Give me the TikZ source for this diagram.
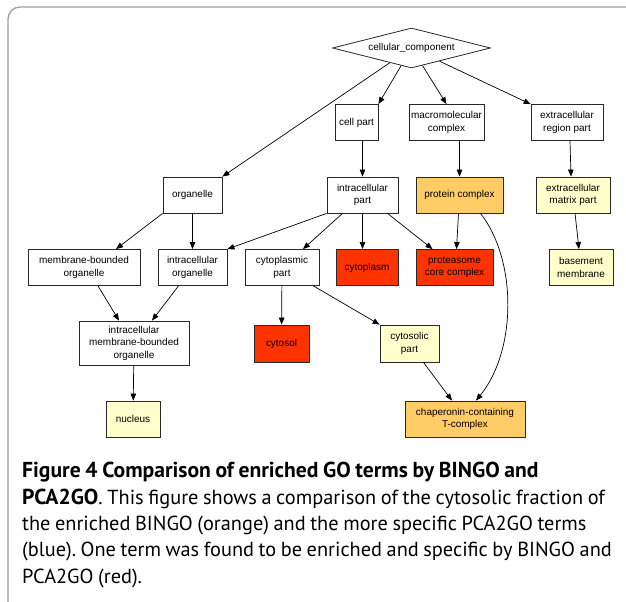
\documentclass[tikz,border=0pt]{standalone}
\usepackage{fontspec}
\usepackage{xcolor}
\usepackage{tikz}
\usetikzlibrary{shapes.geometric, arrows.meta, positioning}
\newfontfamily\gofont{Liberation Sans}
\newfontfamily\capfont{PT Sans}[WordSpace=0.85]
\newcommand\capbf[1]{{\fontsize{21.7}{26.5}\selectfont\bfseries #1}}
\frenchspacing
\definecolor{framegray}{RGB}{160,160,160}
\definecolor{bingofill}{RGB}{255,204,102}
\definecolor{bothfill}{RGB}{255,51,0}
\definecolor{pcafill}{RGB}{255,255,204}
\definecolor{edgegray}{RGB}{40,40,40}
\tikzset{
    goterm/.style={
        rectangle,
        draw=edgegray,
        line width=0.8bp,
        fill=white,
        align=center,
        inner sep=2bp,
        minimum height=36bp,
        font=\gofont\fontsize{10}{12.5}\selectfont
    },
    bingoterm/.style={
        goterm,
        fill=bingofill
    },
    bothterm/.style={
        goterm,
        fill=bothfill
    },
    pcaterm/.style={
        goterm,
        fill=pcafill
    },
    rootterm/.style={
        diamond,
        aspect=4,
        draw=edgegray,
        line width=0.8bp,
        inner sep=0pt,
        minimum width=158bp,
        minimum height=40bp,
        font=\gofont\fontsize{10}{12.5}\selectfont
    },
    connection/.style={
        draw=black,
        line width=0.7bp,
        -{Triangle[length=7bp,width=5.5bp]}
    },
    caption/.style={
        align=left,
        inner sep=0pt,
        anchor=north west,
        font=\capfont\fontsize{20.4}{26.5}\selectfont
    }
}

\begin{document}
\begin{tikzpicture}[x=1bp, y=-1bp]
\useasboundingbox (0,0) rectangle (626,602);
\draw[framegray, line width=1.3bp, rounded corners=12bp] (8,602) -- (8,7) -- (626,7);

% GO graph
\node[rootterm] (cc) at (411.5,48) {cellular\_component};

\node[goterm, minimum width=43bp] (cellpart) at (356.5,122.5) {cell part};
\node[goterm, minimum width=71bp] (macro) at (446.5,122.5) {macromolecular\\complex};
\node[goterm, minimum width=72bp] (erp) at (567,122.5) {extracellular\\region part};

\node[goterm, minimum width=59bp] (organelle) at (192.5,195) {organelle};
\node[goterm, minimum width=71bp] (ip) at (362.5,195) {intracellular\\part};
\node[bingoterm, minimum width=87bp] (pc) at (459.5,195) {protein complex};
\node[pcaterm, minimum width=74bp] (emp) at (573,195) {extracellular\\matrix part};

\node[goterm, minimum width=112bp] (mbo) at (84,267.5) {membrane-bounded\\organelle};
\node[goterm, minimum width=69bp] (io) at (192.5,267.5) {intracellular\\organelle};
\node[goterm, minimum width=74bp] (cpart) at (282,267.5) {cytoplasmic\\part};
\node[bothterm, minimum width=62bp] (cyto) at (367,267.5) {cytoplasm};
\node[bothterm, minimum width=77bp] (prot) at (454.5,267.5) {proteasome\\core complex};
\node[pcaterm, minimum width=64bp] (bm) at (581,267.5) {basement\\membrane};

\node[goterm, minimum width=110bp, minimum height=44bp] (imbo) at (134,343) {intracellular\\membrane-bounded\\organelle};
\node[bothterm, minimum width=55bp, minimum height=37bp] (cytosol) at (281.5,343.5) {cytosol};
\node[pcaterm, minimum width=59bp, minimum height=37bp] (csp) at (409.5,343.5) {cytosolic\\part};

\node[pcaterm, minimum width=54bp] (nucleus) at (133,419) {nucleus};
\node[bingoterm, minimum width=120bp] (chap) at (465,419) {chaperonin-containing\\T-complex};

\draw[connection] (cc) -- (organelle.north east);
\draw[connection] (cc) -- (cellpart.north east);
\draw[connection] (cc) -- (macro.north);
\draw[connection] (cc) -- (erp.north west);
\draw[connection] (cellpart.south -| ip.north) -- (ip.north);
\draw[connection] (macro.south -| pc.north) -- (pc.north);
\draw[connection] ([xshift=3bp]erp.south) -- ([xshift=-2bp]emp.north);
\draw[connection] (organelle.south west) -- ([xshift=32bp]mbo.north);
\draw[connection] (organelle) -- (io);
\draw[connection] (ip.south west) -- (io.north east);
\draw[connection] ([xshift=-20bp]ip.south) -- ([xshift=21bp]cpart.north);
\draw[connection] (ip.south) -- (ip.south |- cyto.north);
\draw[connection] ([xshift=25bp]ip.south) -- ([xshift=-22bp]prot.north);
\draw[connection] ([xshift=-1bp]pc.south) -- ([xshift=2bp]prot.north);
\draw[connection] ([xshift=21bp]pc.south) .. controls (517,260) and (517,350) .. ([xshift=11bp]chap.north);
\draw[connection] (emp) -- (bm);
\draw[connection] ([xshift=14bp]mbo.south) -- ([xshift=-15bp]imbo.north);
\draw[connection] ([xshift=-14bp]io.south) -- ([xshift=18bp]imbo.north);
\draw[connection] (cpart) -- (cytosol);
\draw[connection] ([xshift=-6bp]cpart.south east) -- (csp.north west);
\draw[connection] ([xshift=14bp]csp.south) -- ([xshift=-13bp]chap.north);
\draw[connection] (imbo) -- (nucleus);

% caption
\node[caption] (cap) at (22,462) {\capbf{Figure 4 Comparison of enriched GO terms by BINGO and}\\
\capbf{PCA2GO}. This figure shows a comparison of the cytosolic fraction of\\
the enriched BINGO (orange) and the more specific PCA2GO terms\\
(blue). One term was found to be enriched and specific by BINGO and\\
PCA2GO (red).};
\end{tikzpicture}
\end{document}
